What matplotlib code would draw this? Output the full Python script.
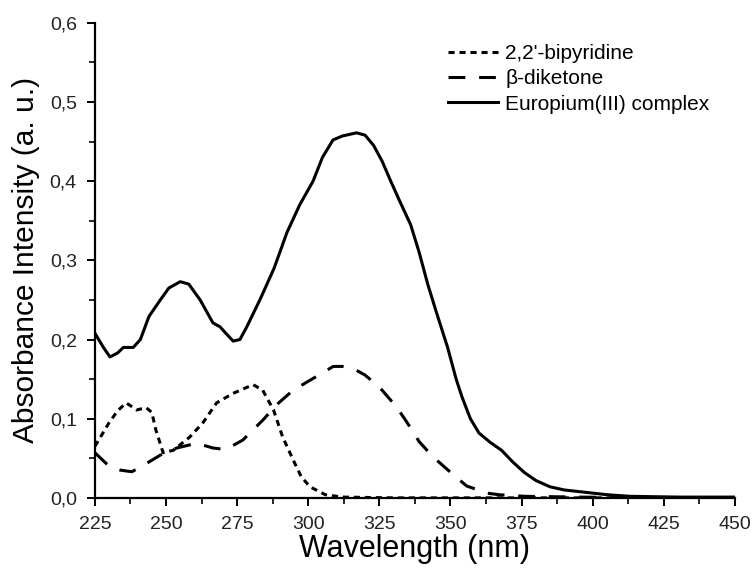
import matplotlib
matplotlib.use("Agg")
import matplotlib.pyplot as plt
from matplotlib.ticker import MultipleLocator, FuncFormatter

plt.rcParams['font.family'] = ['Liberation Sans', 'DejaVu Sans']

# Europium(III) complex
eu_x = [225, 228, 230.3, 233, 235, 238.5, 241, 244, 248, 251, 255, 258, 262, 266.5, 269, 271,
        273.6, 276, 278.4, 283, 288, 292.5, 297, 301.7, 305, 308.7, 312, 317, 320, 323, 326,
        329, 332, 336, 339, 342, 345, 349, 352, 354, 357, 360, 364, 368, 372, 376, 380, 385,
        390, 395, 405, 413, 430, 450]
eu_y = [0.208, 0.19, 0.178, 0.183, 0.19, 0.19, 0.2, 0.229, 0.25, 0.265, 0.273, 0.27, 0.25,
        0.221, 0.216, 0.208, 0.198, 0.2, 0.216, 0.25, 0.29, 0.335, 0.37, 0.40, 0.43, 0.452,
        0.457, 0.461, 0.458, 0.445, 0.425, 0.40, 0.376, 0.345, 0.31, 0.27, 0.235, 0.19,
        0.15, 0.128, 0.10, 0.082, 0.07, 0.06, 0.045, 0.032, 0.022, 0.014, 0.01, 0.008, 0.004,
        0.002, 0.001, 0.001]

# 2,2'-bipyridine
bp_x = [225, 230, 233, 236, 239.7, 243, 245, 246.5, 249, 252.5, 258.4, 263, 267.8, 273.6,
        280.6, 284, 287.8, 291, 294.7, 297.5, 300.6, 306, 312, 330, 450]
bp_y = [0.065, 0.095, 0.11, 0.12, 0.111, 0.114, 0.108, 0.085, 0.057, 0.06, 0.077, 0.095,
        0.12, 0.132, 0.143, 0.136, 0.111, 0.077, 0.048, 0.027, 0.014, 0.004, 0.001, 0.0, 0.0]

# beta-diketone
bd_x = [225, 230, 234, 238, 242, 248, 253.8, 260.8, 266.5, 271, 277, 284, 289, 294.7, 301.8,
        308.8, 312, 316, 320, 325, 331, 334.6, 339, 343.8, 349.8, 355.7, 362.8, 367, 376,
        395, 420, 450]
bd_y = [0.057, 0.04, 0.035, 0.033, 0.041, 0.054, 0.063, 0.069, 0.063, 0.061, 0.073, 0.098,
        0.118, 0.136, 0.151, 0.166, 0.166, 0.163, 0.155, 0.14, 0.115, 0.096, 0.071, 0.052,
        0.033, 0.015, 0.006, 0.004, 0.002, 0.001, 0.0, 0.0]

fig = plt.figure(figsize=(7.53, 5.69), dpi=100)
ax = fig.add_axes([0.126, 0.125, 0.85, 0.835])

ax.plot(bp_x, bp_y, color='black', lw=2.2, linestyle=(0, (2.0, 1.6)), label="2,2'-bipyridine")
ax.plot(bd_x, bd_y, color='black', lw=2.2, linestyle=(0, (5.5, 4.5)), label='\u03b2-diketone')
ax.plot(eu_x, eu_y, color='black', lw=2.2, label='Europium(III) complex')

ax.set_xlim(225, 450)
ax.set_ylim(0, 0.6)
ax.xaxis.set_major_locator(MultipleLocator(25))
ax.xaxis.set_minor_locator(MultipleLocator(12.5))
ax.yaxis.set_major_locator(MultipleLocator(0.1))
ax.yaxis.set_minor_locator(MultipleLocator(0.05))
ax.yaxis.set_major_formatter(FuncFormatter(lambda v, p: f"{v:.1f}".replace('.', ',')))

for s in ['top', 'right']:
    ax.spines[s].set_visible(False)
for s in ['left', 'bottom']:
    ax.spines[s].set_linewidth(1.6)
ax.tick_params(which='major', direction='out', length=6, width=1.4, labelsize=14,
               labelcolor='#222222')
ax.tick_params(which='minor', direction='out', length=4, width=1.2)
ax.tick_params(axis='x', which='major', pad=7)
ax.tick_params(axis='y', which='major', pad=7)

ax.set_xlabel('Wavelength (nm)', fontsize=22, labelpad=1)
ax.set_ylabel('Absorbance Intensity (a. u.)', fontsize=21.5, labelpad=7)

ax.legend(loc='upper left', bbox_to_anchor=(0.552, 0.955), frameon=False, fontsize=15,
          handlelength=2.4, handletextpad=0.33, borderpad=0, borderaxespad=0,
          labelspacing=0.3)

plt.savefig('out.png', dpi=100)
